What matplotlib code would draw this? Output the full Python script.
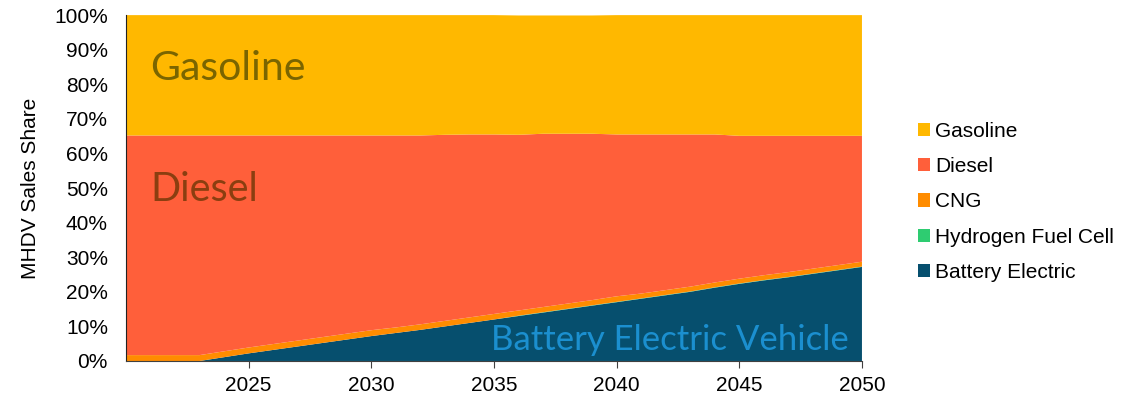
# MHDV sales share by fuel, stacked area
import matplotlib.pyplot as plt
import numpy as np

years = np.arange(2020, 2051)

# shares in percent
bev = [0, 0, 0, 0, 1.1, 2.2, 3.2, 4.2, 5.2, 6.2, 7.2,
       8.1, 9.0, 10.0, 11.0, 12.0, 13.0, 14.0, 15.0, 16.0, 17.0,
       18.0, 19.0, 20.0, 21.2, 22.3, 23.3, 24.2, 25.2, 26.2, 27.2]
hydrogen = [0] * 16 + [0.1] * 15
cng = [1.7] * 11 + [1.6] * 5 + [1.5] * 4 + [1.6] + [1.4] * 10
diesel = [63.5, 63.5, 63.5, 63.5, 62.4, 61.3, 60.3, 59.3, 58.3, 57.3, 56.3,
          55.5, 54.6, 53.8, 52.9, 51.9, 50.8, 50.1, 49.1, 48.1, 46.8,
          46.0, 45.0, 44.0, 42.8, 41.3, 40.3, 39.4, 38.4, 37.4, 36.4]
gasoline = [34.8] * 13 + [34.6] + [34.5] * 3 + [34.2] * 3 + [34.5] * 5 + [34.9] * 6

labels = ['Battery Electric', 'Hydrogen Fuel Cell', 'CNG', 'Diesel', 'Gasoline']
colors = ['#064f6e', '#2ecc71', '#ff8c00', '#ff5f3a', '#ffb800']

plt.rcParams['font.family'] = ['Liberation Sans', 'DejaVu Sans']

fig = plt.figure(figsize=(11.4, 3.98), dpi=100)
ax = fig.add_axes([0.1105, 0.093, 0.6456, 0.869])

series = np.array([bev, hydrogen, cng, diesel, gasoline]) / 100.0
ax.stackplot(years, series, colors=colors, labels=labels, linewidth=0)

ax.set_xlim(2020, 2050)
ax.set_ylim(0, 1)
ax.set_xticks(np.arange(2025, 2051, 5))
ax.set_yticks(np.arange(0, 1.01, 0.1))
ax.set_yticklabels(['%d%%' % v for v in range(0, 101, 10)])
ax.tick_params(axis='x', direction='out', length=5, labelsize=15, pad=6, color='#404040')
ax.tick_params(axis='y', length=0, labelsize=15, pad=13)
ax.set_ylabel('MHDV Sales Share', fontsize=15, labelpad=10)

for s in ['top', 'right']:
    ax.spines[s].set_visible(False)
ax.spines['left'].set_color('#222222')
ax.spines['bottom'].set_color('#404040')

# big labels inside the areas
ax.text(2021, 0.845, 'Gasoline', color='#7a6500', va='center', ha='left',
        family=['Lato', 'DejaVu Sans'], fontsize=29.5)
ax.text(2021, 0.495, 'Diesel', color='#8b3e10', va='center', ha='left',
        family=['Lato', 'DejaVu Sans'], fontsize=28.5)
ax.text(2049.45, 0.06, 'Battery Electric Vehicle', color='#1b8fcf', va='center', ha='right',
        family=['Lato', 'DejaVu Sans'], fontsize=25)

h, l = ax.get_legend_handles_labels()
ax.legend(h[::-1], l[::-1], loc='center left', bbox_to_anchor=(1.05, 0.46),
          frameon=False, fontsize=15, handlelength=0.6, handleheight=0.6,
          handletextpad=0.25, labelspacing=0.78)

plt.savefig('out.png', dpi=100)
